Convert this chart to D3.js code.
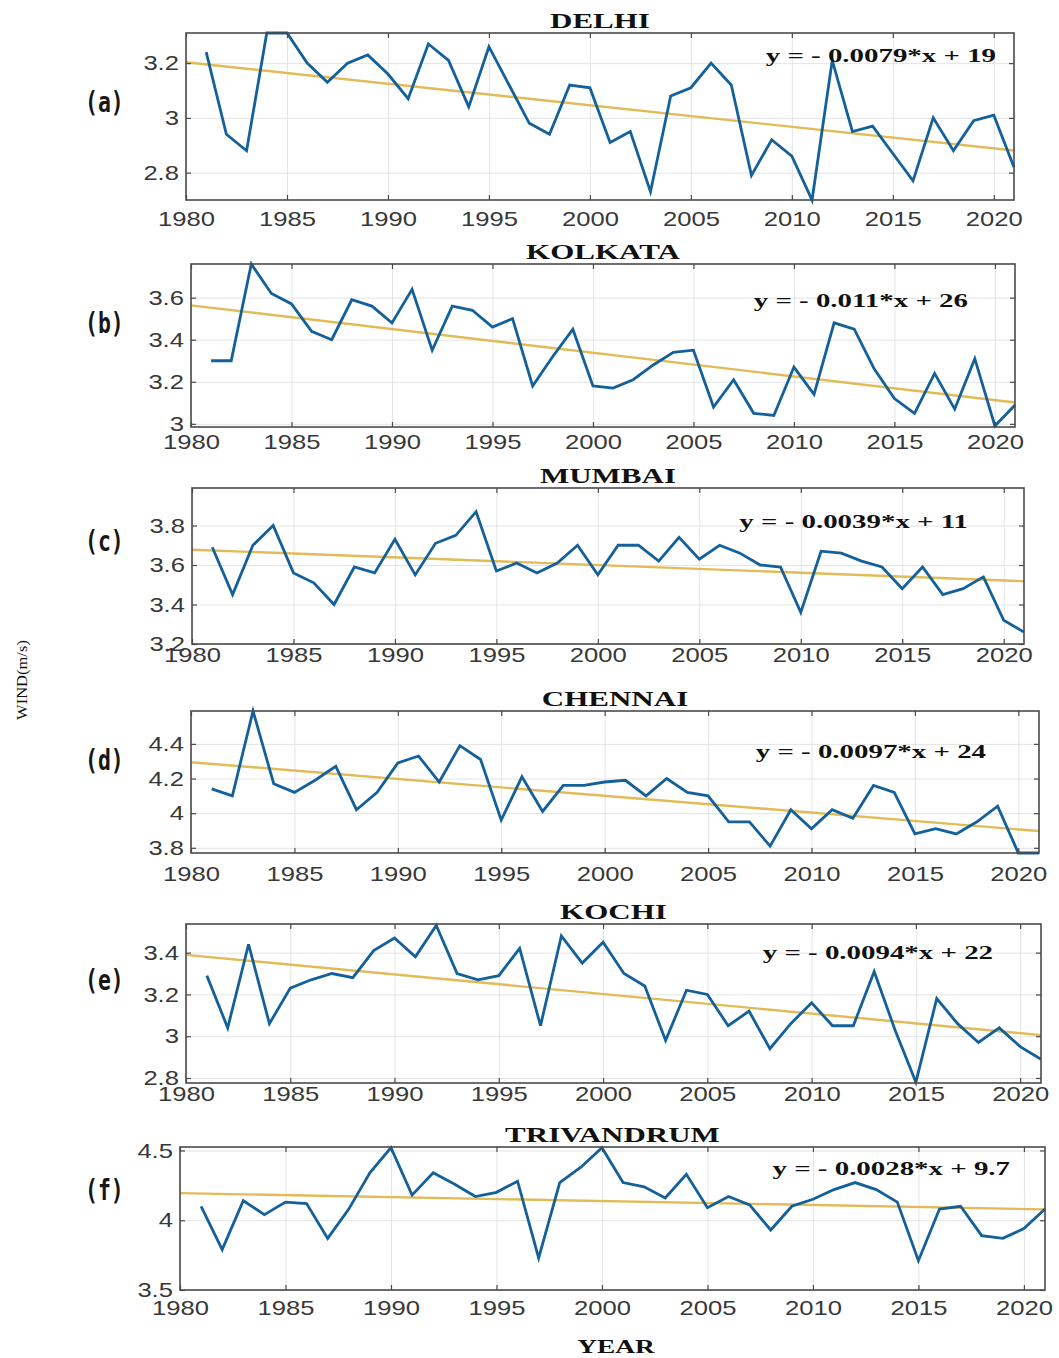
<!DOCTYPE html>
<html>
<head>
<meta charset="utf-8">
<script src="https://cdn.jsdelivr.net/npm/d3@7"></script>
<style>
  body { margin: 0; background: #fff; }
  svg { display: block; }
</style>
</head>
<body>
<svg id="chart" width="1059" height="1358"></svg>
<script>
// Annual mean wind speed (m/s), 1981-2021, for six Indian cities
const years = d3.range(1981, 2022);

const delhi = [3.24,2.94,2.88,3.31,3.31,3.20,3.13,3.20,3.23,3.16,
               3.07,3.27,3.21,3.04,3.26,3.12,2.98,2.94,3.12,3.11,
               2.91,2.95,2.73,3.08,3.11,3.20,3.12,2.79,2.92,2.86,
               2.70,3.21,2.95,2.97,2.87,2.77,3.00,2.88,2.99,3.01,2.82];
const kolkata = [3.30,3.30,3.76,3.62,3.57,3.44,3.40,3.59,3.56,3.48,
                 3.64,3.35,3.56,3.54,3.46,3.50,3.18,3.32,3.45,3.18,
                 3.17,3.21,3.28,3.34,3.35,3.08,3.21,3.05,3.04,3.27,
                 3.14,3.48,3.45,3.26,3.12,3.05,3.24,3.07,3.31,2.99,3.09];
const mumbai = [3.69,3.45,3.70,3.80,3.56,3.51,3.40,3.59,3.56,3.73,
                3.55,3.71,3.75,3.87,3.57,3.61,3.56,3.61,3.70,3.55,
                3.70,3.70,3.62,3.74,3.63,3.70,3.66,3.60,3.59,3.36,
                3.67,3.66,3.62,3.59,3.48,3.59,3.45,3.48,3.54,3.32,3.26];
const chennai = [4.14,4.10,4.59,4.17,4.12,4.19,4.27,4.02,4.12,4.29,
                 4.33,4.18,4.39,4.31,3.96,4.21,4.01,4.16,4.16,4.18,
                 4.19,4.10,4.20,4.12,4.10,3.95,3.95,3.81,4.02,3.91,
                 4.02,3.97,4.16,4.12,3.88,3.91,3.88,3.95,4.04,3.77,3.77];
const kochi = [3.29,3.04,3.44,3.06,3.23,3.27,3.30,3.28,3.41,3.47,
               3.38,3.53,3.30,3.27,3.29,3.42,3.05,3.48,3.35,3.45,
               3.30,3.24,2.98,3.22,3.20,3.05,3.12,2.94,3.06,3.16,
               3.05,3.05,3.31,3.03,2.78,3.18,3.06,2.97,3.04,2.95,2.89];
const trivandrum = [4.10,3.79,4.14,4.04,4.13,4.12,3.87,4.08,4.34,4.52,
                    4.18,4.34,4.26,4.17,4.20,4.28,3.73,4.27,4.38,4.52,
                    4.27,4.24,4.16,4.33,4.09,4.17,4.11,3.93,4.10,4.15,
                    4.22,4.27,4.22,4.13,3.71,4.08,4.10,3.89,3.87,3.94,4.08];

const series = [delhi, kolkata, mumbai, chennai, kochi, trivandrum];
const cities = ["DELHI", "KOLKATA", "MUMBAI", "CHENNAI", "KOCHI", "TRIVANDRUM"];
const panelTags = ["(a)", "(b)", "(c)", "(d)", "(e)", "(f)"];
const equations = [
  "y = - 0.0079*x + 19",
  "y = - 0.011*x + 26",
  "y = - 0.0039*x + 11",
  "y = - 0.0097*x + 24",
  "y = - 0.0094*x + 22",
  "y = - 0.0028*x + 9.7"
];
const xTicks = [1980, 1985, 1990, 1995, 2000, 2005, 2010, 2015, 2020];
const yTicks = [
  [2.8, 3.0, 3.2],
  [3.0, 3.2, 3.4, 3.6],
  [3.2, 3.4, 3.6, 3.8],
  [3.8, 4.0, 4.2, 4.4],
  [2.8, 3.0, 3.2, 3.4],
  [3.5, 4.0, 4.5]
];
const yDomains = [
  [2.70, 3.31],
  [2.985, 3.76],
  [3.2, 3.99],
  [3.77, 4.59],
  [2.776, 3.537],
  [3.5, 4.525]
];

// Panel frames (pixels) and label placement
const frames = [
  {l: 186, r: 1014, t: 33,   b: 200,  xPad: 11, eqR: 996,  eqY: 62,   tagY: 104},
  {l: 191, r: 1015, t: 264,  b: 427,  xPad: 7,  eqR: 968,  eqY: 307,  tagY: 325},
  {l: 192, r: 1024, t: 488,  b: 644,  xPad: 3,  eqR: 968,  eqY: 528,  tagY: 543},
  {l: 191, r: 1039, t: 711,  b: 853,  xPad: 13, eqR: 986,  eqY: 758,  tagY: 762},
  {l: 186, r: 1041, t: 924,  b: 1083, xPad: 3,  eqR: 993,  eqY: 959,  tagY: 982},
  {l: 180, r: 1045, t: 1147, b: 1290, xPad: 10, eqR: 1010, eqY: 1175, tagY: 1192}
];

const LINE_BLUE = "#14609a";
const TREND_GOLD = "#e2bb58";
const AXIS_GRAY = "#4a4a4a";
const GRID_GRAY = "#e4e4e4";
const SERIF = "'Liberation Serif', 'Times New Roman', serif";
const SANS = "'Liberation Sans', Arial, sans-serif";
const TICK_STRETCH = 1.22;

const svg = d3.select("#chart");
svg.append("rect").attr("width", 1059).attr("height", 1358).attr("fill", "#fff");

// Widen a text element horizontally by factor k, returning its new width
function widen(node, k) {
  const w = node.getComputedTextLength();
  node.setAttribute("textLength", (w * k).toFixed(1));
  node.setAttribute("lengthAdjust", "spacingAndGlyphs");
  return w * k;
}

const fmtY = d => String(+d.toFixed(1));

series.forEach((vals, i) => {
  const F = frames[i];
  const x = d3.scaleLinear().domain([1980, 2021]).range([F.l, F.r]);
  const y = d3.scaleLinear().domain(yDomains[i]).range([F.b, F.t]);
  const h = F.b - F.t, w = F.r - F.l;
  const g = svg.append("g");

  // grid
  const gx = g.append("g").attr("transform", `translate(0,${F.b})`)
    .call(d3.axisBottom(x).tickValues(xTicks).tickSize(-h).tickFormat(""));
  const gy = g.append("g").attr("transform", `translate(${F.l},0)`)
    .call(d3.axisLeft(y).tickValues(yTicks[i]).tickSize(-w).tickFormat(""));
  [gx, gy].forEach(s => {
    s.select(".domain").remove();
    s.selectAll("line").attr("stroke", GRID_GRAY).attr("stroke-width", 1);
  });

  // least-squares trend of the series
  const mx = d3.mean(years), my = d3.mean(vals);
  const slope = d3.sum(years, (yr, j) => (yr - mx) * (vals[j] - my)) /
                d3.sum(years, yr => (yr - mx) * (yr - mx));
  const fit = yr => my + slope * (yr - mx);
  g.append("path")
    .datum([1980, 2021])
    .attr("fill", "none")
    .attr("stroke", TREND_GOLD)
    .attr("stroke-width", 2.4)
    .attr("d", d3.line().x(d => x(d)).y(d => y(fit(d))));

  // wind series
  g.append("path")
    .datum(vals)
    .attr("fill", "none")
    .attr("stroke", LINE_BLUE)
    .attr("stroke-width", 2.8)
    .attr("stroke-linejoin", "miter")
    .attr("d", d3.line().x((d, j) => x(years[j])).y(d => y(d)));

  // axes with inward ticks on all four sides
  const axB = g.append("g").attr("transform", `translate(0,${F.b})`)
    .call(d3.axisBottom(x).tickValues(xTicks).tickSizeInner(-5).tickSizeOuter(0)
      .tickPadding(F.xPad).tickFormat(d3.format("d")));
  const axL = g.append("g").attr("transform", `translate(${F.l},0)`)
    .call(d3.axisLeft(y).tickValues(yTicks[i]).tickSizeInner(-5).tickSizeOuter(0)
      .tickPadding(7).tickFormat(fmtY));
  const axT = g.append("g").attr("transform", `translate(0,${F.t})`)
    .call(d3.axisTop(x).tickValues(xTicks).tickSizeInner(-5).tickSizeOuter(0).tickFormat(""));
  const axR = g.append("g").attr("transform", `translate(${F.r},0)`)
    .call(d3.axisRight(y).tickValues(yTicks[i]).tickSizeInner(-5).tickSizeOuter(0).tickFormat(""));
  [axB, axL, axT, axR].forEach(s => {
    s.select(".domain").remove();
    s.selectAll(".tick line").attr("stroke", AXIS_GRAY).attr("stroke-width", 1.2);
    s.selectAll("text")
      .attr("font-family", SANS)
      .attr("font-size", 21)
      .attr("fill", "#383838");
  });
  // tick labels drawn slightly wide, keeping their anchor position
  axB.selectAll(".tick text").each(function () {
    const tw = widen(this, TICK_STRETCH);
    d3.select(this).attr("text-anchor", "start").attr("x", -tw / 2);
  });
  axL.selectAll(".tick text").each(function () {
    const tw = widen(this, TICK_STRETCH);
    d3.select(this).attr("text-anchor", "start").attr("x", -7 - tw);
  });

  // axes box
  g.append("rect")
    .attr("x", F.l).attr("y", F.t).attr("width", w).attr("height", h)
    .attr("fill", "none").attr("stroke", AXIS_GRAY).attr("stroke-width", 1.6);

  // city title
  const title = g.append("text")
    .attr("y", F.t - 5)
    .attr("font-family", SERIF).attr("font-weight", "bold").attr("font-size", 20)
    .attr("fill", "#111").text(cities[i]);
  const tw = widen(title.node(), 1.55);
  title.attr("x", (F.l + F.r) / 2 - tw / 2);

  // trend equation
  const eq = g.append("text")
    .attr("y", F.eqY)
    .attr("font-family", SERIF).attr("font-weight", "bold").attr("font-size", 19)
    .attr("fill", "#111").text(equations[i]);
  const ew = widen(eq.node(), 1.52);
  eq.attr("x", F.eqR - ew);

  // panel tag
  const tag = g.append("text")
    .attr("x", 85).attr("y", F.tagY)
    .attr("dominant-baseline", "middle")
    .attr("font-family", "'DejaVu Sans Mono', monospace").attr("font-size", 29)
    .attr("font-weight", "bold")
    .attr("fill", "#161616").text(panelTags[i]);
  widen(tag.node(), 0.74);
});

// shared axis titles
const yl = svg.append("text")
  .attr("transform", "translate(27,680) rotate(-90)")
  .attr("font-family", SERIF).attr("font-size", 14).attr("fill", "#111")
  .text("WIND(m/s)");
const ylw = widen(yl.node(), 1.18);
yl.attr("x", -ylw / 2);

const xl = svg.append("text")
  .attr("y", 1353)
  .attr("font-family", SERIF).attr("font-weight", "bold").attr("font-size", 19)
  .attr("fill", "#111").text("YEAR");
const xlw = widen(xl.node(), 1.44);
xl.attr("x", 616 - xlw / 2);
</script>
</body>
</html>
